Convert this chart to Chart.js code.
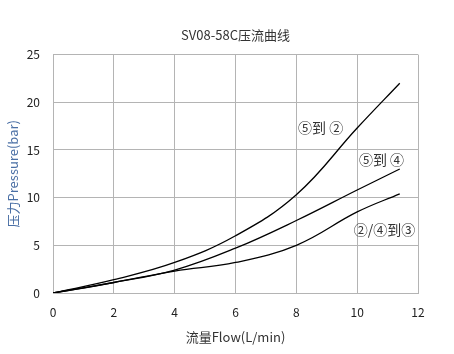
<!DOCTYPE html>
<html lang="zh">
<head>
<meta charset="utf-8" />
<title>SV08-58C压流曲线</title>
<script src="https://cdn.jsdelivr.net/npm/chart.js@4.4"></script>
<style>
  html,body{margin:0;padding:0;background:#fff;}
  #wrap{width:454px;height:354px;}
</style>
</head>
<body>
<div id="wrap"><canvas id="c"></canvas></div>
<script>
/***** ---------- Data ---------- *****/
const X_52=[0,2,4,6,8,10,11.4];
const Y_52=[0,1.4,3.2,6.0,10.3,17.3,22.0];
const X_54=[0,2,4,6,8,10,11.4];
const Y_54=[0,1.1,2.4,4.7,7.6,10.8,13.0];
const X_243=[0,2,4,6,8,10,11.4];
const Y_243=[0,1.1,2.3,3.2,5.0,8.5,10.4];

const LABELS=['⑤到 ②','⑤到 ④','②/④到③'];
const LABEL_X=[8.8,10.8,10.9];
const LABEL_Y=[17.3,14.0,6.6];

const X_TICKS=[0,2,4,6,8,10,12];
const Y_TICKS=[0,5,10,15,20,25];

const FONT='"Noto Sans CJK SC","Noto Sans",sans-serif';

function pts(xs,ys){return xs.map((x,i)=>({x,y:ys[i]}));}

// curve labels, placed in data coordinates
const curveLabels={
  id:'curveLabels',
  afterDatasetsDraw(chart){
    const {ctx,scales:{x,y}}=chart;
    ctx.save();
    ctx.font='14px '+FONT;
    ctx.fillStyle='#333';
    ctx.textAlign='center';
    ctx.textBaseline='middle';
    LABELS.forEach((t,i)=>ctx.fillText(t,x.getPixelForValue(LABEL_X[i]),y.getPixelForValue(LABEL_Y[i])));
    ctx.restore();
  }
};

const line={borderColor:'#000',borderWidth:1.3,pointRadius:0,showLine:true,fill:false,tension:0.4};

new Chart(document.getElementById('c'),{
  type:'scatter',
  data:{datasets:[
    {...line,data:pts(X_52,Y_52)},
    {...line,data:pts(X_54,Y_54)},
    {...line,data:pts(X_243,Y_243)}
  ]},
  options:{
    responsive:true,maintainAspectRatio:false,animation:false,
    layout:{padding:{left:0,right:36,top:0,bottom:0}},
    plugins:{
      legend:{display:false},
      tooltip:{enabled:false},
      title:{display:true,fullSize:false,text:'SV08-58C压流曲线',color:'#333',
        font:{family:FONT,size:13,weight:'normal'},padding:{top:27,bottom:12}}
    },
    scales:{
      x:{type:'linear',min:0,max:12,
        afterBuildTicks:s=>{s.ticks=X_TICKS.map(v=>({value:v}));},
        afterFit:s=>{s.height=61;},
        grid:{color:'#b4b4b4',lineWidth:1,drawTicks:false},
        border:{color:'#b4b4b4'},
        ticks:{color:'#222',padding:12,font:{family:FONT,size:12}},
        title:{display:true,text:'流量Flow(L/min)',color:'#333',font:{family:FONT,size:13},padding:{top:0,bottom:9}}
      },
      y:{min:0,max:25,
        afterBuildTicks:s=>{s.ticks=Y_TICKS.map(v=>({value:v}));},
        afterFit:s=>{s.width=53;},
        grid:{color:'#b4b4b4',lineWidth:1,drawTicks:false},
        border:{color:'#b4b4b4'},
        ticks:{color:'#222',padding:13,font:{family:FONT,size:12}},
        title:{display:true,text:'压力Pressure(bar)',color:'#4a6fa5',font:{family:FONT,size:13},padding:{top:5,bottom:0}}
      }
    }
  },
  plugins:[curveLabels]
});
</script>
</body>
</html>
